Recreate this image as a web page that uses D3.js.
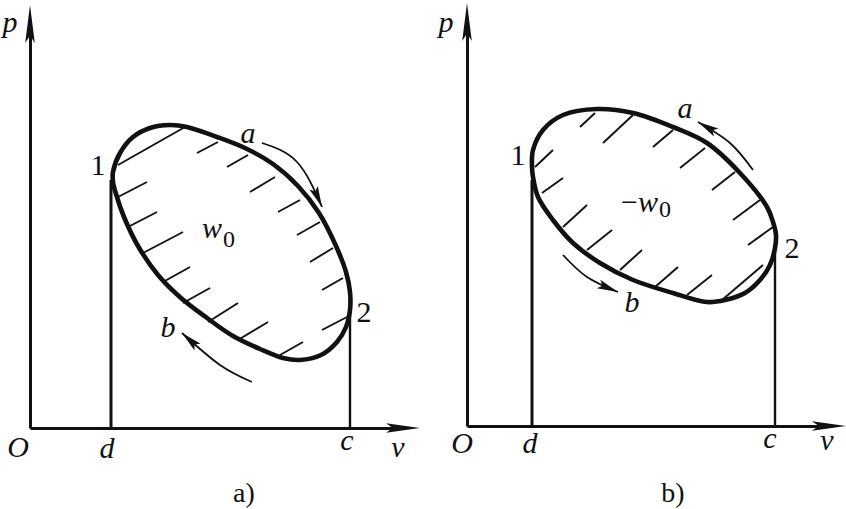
<!DOCTYPE html>
<html>
<head>
<meta charset="utf-8">
<script src="https://cdn.jsdelivr.net/npm/d3@7"></script>
<style>
  body { margin: 0; background: #fff; }
  svg { display: block; }
  .lbl { font-family: "Liberation Serif", "Times New Roman", "DejaVu Serif", serif; font-style: italic; font-size: 30px; fill: #111; }
  .up { font-style: normal; }
  .cap { font-family: "Liberation Serif", "Times New Roman", "DejaVu Serif", serif; font-size: 28px; fill: #111; text-anchor: middle; }
</style>
</head>
<body>
<div id="chart"></div>
<script>
// All values are (v, p) pairs measured from the origin O of each diagram

// ---- diagram a) ----
const loopA = [
    [83, 246], [83, 256], [90, 275], [103, 291], [120, 300], [140, 303], [157, 301],
    [187, 291], [217, 279], [243, 264], [268, 242], [289, 215], [306, 182], [316, 156],
    [320, 136], [320, 118], [316, 101], [307, 86], [291, 73], [270, 68], [253, 70],
    [230, 79], [203, 92], [177, 110], [151, 130], [128, 153], [108, 182], [94, 211], [86, 234]
];
const hatchA = [
    [[88, 263], [155, 301]], [[167, 275], [188, 286]], [[197, 261], [218, 273]],
    [[220, 236], [245, 251]], [[248, 216], [270, 228]], [[267, 193], [290, 206]],
    [[280, 166], [303, 180]], [[292, 138], [313, 150]], [[292, 98], [317, 111]],
    [[250, 73], [273, 86]], [[88, 231], [117, 246]], [[98, 201], [127, 216]],
    [[113, 175], [153, 196]], [[133, 146], [160, 161]], [[153, 125], [180, 140]],
    [[178, 106], [208, 125]], [[208, 88], [238, 106]]
];
const arcsA = [
    [[232, 285], [267, 266], [292, 221]],
    [[222, 46], [190, 63], [152, 95]]
];
const stemsA = [[81, 248], [320, 118]];   // [v, p at top] for d and c
const labelsA = [
    { text: "p", v: -20, p: 396 },
    { text: "O", v: -12, p: -29 },
    { text: "d", v: 77, p: -30 },
    { text: "c", v: 317, p: -22 },
    { text: "v", v: 368, p: -29 },
    { text: "1", v: 68, p: 253, upright: true },
    { text: "2", v: 334, p: 106, upright: true },
    { text: "a", v: 218, p: 285 },
    { text: "b", v: 138, p: 91 },
    { text: "w", sub: "0", v: 172, p: 190, subDy: 9 }
];

// ---- diagram b) ----
const loopB = [
    [65, 259], [66, 276], [76, 296], [96, 311], [130, 317], [166, 313], [206, 299],
    [240, 283], [273, 253], [300, 219], [306, 204], [309, 191], [308, 178], [303, 161],
    [293, 146], [278, 133], [258, 126], [240, 124], [206, 133], [166, 146], [133, 163],
    [106, 183], [86, 206], [71, 229], [66, 249]
];
const hatchB = [
    [[113, 299], [128, 313]], [[136, 283], [166, 311]], [[186, 279], [206, 296]],
    [[213, 258], [238, 278]], [[245, 236], [268, 254]], [[266, 206], [293, 226]],
    [[281, 181], [306, 199]], [[255, 126], [296, 161]], [[68, 259], [86, 276]],
    [[75, 233], [96, 248]], [[96, 199], [120, 221]], [[120, 176], [145, 196]],
    [[153, 156], [175, 176]], [[188, 139], [211, 159]], [[220, 131], [245, 151]]
];
const arcsB = [
    [[286, 256], [263, 283], [231, 304]],
    [[96, 171], [120, 149], [151, 134]]
];
const stemsB = [[65, 246], [308, 179]];
const labelsB = [
    { text: "p", v: -21, p: 394 },
    { text: "O", v: -5, p: -27 },
    { text: "d", v: 63, p: -27 },
    { text: "c", v: 303, p: -22 },
    { text: "v", v: 360, p: -24 },
    { text: "1", v: 51, p: 261, upright: true },
    { text: "2", v: 325, p: 168, upright: true },
    { text: "a", v: 218, p: 308 },
    { text: "b", v: 165, p: 114 },
    { pre: "\u2212", text: "w", sub: "0", v: 154, p: 214, subDy: 5 }
];

const panels = [
    { origin: [30, 428], vMax: 390, pMax: 423, loop: loopA, hatch: hatchA, arcs: arcsA, stems: stemsA, labels: labelsA, caption: "a)", capAt: [214, -74] },
    { origin: [467, 426], vMax: 379, pMax: 423, loop: loopB, hatch: hatchB, arcs: arcsB, stems: stemsB, labels: labelsB, caption: "b)", capAt: [206, -76] }
];

const svg = d3.select("#chart").append("svg")
    .attr("width", 846)
    .attr("height", 509)
    .style("background", "#fff");

// narrow spear shaped arrow head, tip at 0,0 pointing along +x
function spear(len, half) {
    return `M0,0L${-len},${-half}L${-len + len * 0.2},0L${-len},${half}Z`;
}

function drawPanel(cfg) {
    const x = d3.scaleLinear().domain([0, cfg.vMax]).range([cfg.origin[0], cfg.origin[0] + cfg.vMax]);
    const y = d3.scaleLinear().domain([0, cfg.pMax]).range([cfg.origin[1], cfg.origin[1] - cfg.pMax]);
    const g = svg.append("g");

    // axes (stems stop short of the arrow tips)
    const xs = x.copy().domain([0, cfg.vMax - 14]).range([x(0), x(cfg.vMax - 14)]);
    const ys = y.copy().domain([0, cfg.pMax - 14]).range([y(0), y(cfg.pMax - 14)]);
    g.append("g").attr("transform", `translate(0,${y(0)})`)
        .call(d3.axisBottom(xs).tickValues([]).tickSizeOuter(0))
        .call(a => a.select(".domain").attr("stroke", "#111").attr("stroke-width", 3));
    g.append("g").attr("transform", `translate(${x(0)},0)`)
        .call(d3.axisLeft(ys).tickValues([]).tickSizeOuter(0))
        .call(a => a.select(".domain").attr("stroke", "#111").attr("stroke-width", 3));
    g.append("path").attr("d", spear(34, 4.8)).attr("fill", "#111")
        .attr("transform", `translate(${x(cfg.vMax)},${y(0)})`);
    g.append("path").attr("d", spear(38, 4.8)).attr("fill", "#111")
        .attr("transform", `translate(${x(0)},${y(cfg.pMax)}) rotate(-90)`);

    // vertical lines down to d and c
    g.selectAll(".stem").data(cfg.stems).enter().append("line")
        .attr("x1", d => x(d[0])).attr("x2", d => x(d[0]))
        .attr("y1", y(0)).attr("y2", d => y(d[1]))
        .attr("stroke", "#111").attr("stroke-width", (d, i) => i === 0 ? 3 : 2.4);

    // hatching
    g.selectAll(".hatch").data(cfg.hatch).enter().append("line")
        .attr("x1", d => x(d[0][0])).attr("y1", d => y(d[0][1]))
        .attr("x2", d => x(d[1][0])).attr("y2", d => y(d[1][1]))
        .attr("stroke", "#111").attr("stroke-width", 1.9);

    // the cycle
    const loopLine = d3.line().x(d => x(d[0])).y(d => y(d[1])).curve(d3.curveCatmullRomClosed.alpha(0.5));
    g.append("path").datum(cfg.loop).attr("d", loopLine)
        .attr("fill", "none").attr("stroke", "#111").attr("stroke-width", 4.6);

    // direction arrows
    const arcLine = d3.line().x(d => x(d[0])).y(d => y(d[1])).curve(d3.curveNatural);
    cfg.arcs.forEach(pts => {
        const path = g.append("path").attr("d", arcLine(pts))
            .attr("fill", "none").attr("stroke", "#111").attr("stroke-width", 1.8);
        const node = path.node();
        const L = node.getTotalLength();
        const end = node.getPointAtLength(L);
        const back = node.getPointAtLength(L - 8);
        const ang = Math.atan2(end.y - back.y, end.x - back.x) * 180 / Math.PI;
        g.append("path").attr("d", spear(21, 4.6)).attr("fill", "#111")
            .attr("transform", `translate(${end.x},${end.y}) rotate(${ang})`);
    });

    // labels
    cfg.labels.forEach(l => {
        const t = g.append("text").attr("class", "lbl")
            .attr("x", x(l.v)).attr("y", y(l.p))
            .attr("text-anchor", l.sub ? "start" : "middle");
        if (l.pre) t.append("tspan").attr("class", "up").text(l.pre);
        const main = t.append("tspan").text(l.text);
        if (l.upright) main.attr("class", "up");
        if (l.sub) {
            t.append("tspan").attr("class", "up").attr("font-size", 24)
                .attr("dx", 1).attr("dy", l.subDy).text(l.sub);
        }
    });

    g.append("text").attr("class", "cap")
        .attr("x", x(cfg.capAt[0])).attr("y", y(cfg.capAt[1]))
        .text(cfg.caption);
}

panels.forEach(drawPanel);
</script>
</body>
</html>
